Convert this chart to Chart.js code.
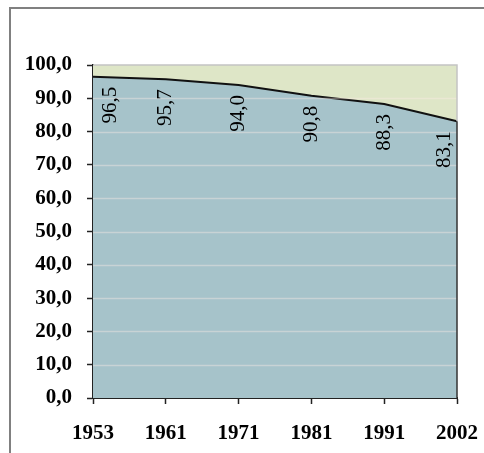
<!DOCTYPE html>
<html>
<head>
<meta charset="utf-8">
<script src="https://cdn.jsdelivr.net/npm/chart.js@4/dist/chart.umd.min.js"></script>
<style>
  html, body { margin: 0; padding: 0; background: #ffffff; overflow: hidden; }
  canvas { display: block; }
</style>
</head>
<body>
<canvas id="chart" width="484" height="453"></canvas>
<script>
// Census years and the share (%) held by the main group, plus the remainder up to 100
const years = ['1953', '1961', '1971', '1981', '1991', '2002'];
const mainShare = [96.5, 95.7, 94.0, 90.8, 88.3, 83.1];
const restShare = [3.5, 4.3, 6.0, 9.2, 11.7, 16.9];
const yTicks = [0, 10, 20, 30, 40, 50, 60, 70, 80, 90, 100];

const SERIF = '"Liberation Serif", "Times New Roman", serif';
const fmt = v => Number(v).toFixed(1).replace('.', ',');

// Grey outer frame (top and left edges)
const framePlugin = {
  id: 'frame',
  beforeDraw(chart) {
    const ctx = chart.ctx;
    ctx.save();
    ctx.fillStyle = '#ffffff';
    ctx.fillRect(0, 0, chart.width, chart.height);
    ctx.fillStyle = '#808080';
    ctx.fillRect(9, 7, chart.width - 9, 2);
    ctx.fillRect(9, 7, 2, chart.height - 7);
    ctx.restore();
  }
};

// Light horizontal gridlines over the areas, then the plot-area outline
const outlinePlugin = {
  id: 'outline',
  afterDatasetsDraw(chart) {
    const { ctx, chartArea: a } = chart;
    const yScale = chart.scales.y;
    ctx.save();
    ctx.strokeStyle = 'rgba(255,236,232,0.38)';
    ctx.lineWidth = 1.5;
    yTicks.forEach(v => {
      if (v === 0 || v === 100) return;
      const y = Math.round(yScale.getPixelForValue(v)) + 0.5;
      ctx.beginPath();
      ctx.moveTo(a.left, y);
      ctx.lineTo(a.right, y);
      ctx.stroke();
    });
    const meta = chart.getDatasetMeta(0);
    const last = meta.data[meta.data.length - 1];
    ctx.strokeStyle = '#c4c4c4';
    ctx.beginPath();
    ctx.moveTo(a.left, a.top);
    ctx.lineTo(a.right, a.top);
    ctx.lineTo(a.right, last.y);
    ctx.stroke();
    ctx.strokeStyle = '#333333';
    ctx.beginPath();
    ctx.moveTo(a.right, last.y);
    ctx.lineTo(a.right, a.bottom);
    ctx.stroke();
    ctx.restore();
  }
};

// Vertical value labels under each point of the main series
const valueLabelPlugin = {
  id: 'valueLabels',
  afterDatasetsDraw(chart) {
    const { ctx, chartArea: a } = chart;
    const meta = chart.getDatasetMeta(0);
    ctx.save();
    ctx.fillStyle = '#000000';
    ctx.font = '21px ' + SERIF;
    ctx.textAlign = 'right';
    ctx.textBaseline = 'middle';
    meta.data.forEach((pt, i) => {
      const x = Math.min(Math.max(pt.x, a.left + 17), a.right - 13);
      const y = pt.y + 10;
      ctx.save();
      ctx.translate(x, y);
      ctx.rotate(-Math.PI / 2);
      ctx.fillText(fmt(mainShare[i]), 0, 0);
      ctx.restore();
    });
    ctx.restore();
  }
};

new Chart(document.getElementById('chart'), {
  type: 'line',
  data: {
    labels: years,
    datasets: [
      {
        data: mainShare,
        fill: 'origin',
        backgroundColor: '#a6c3ca',
        borderColor: '#111111',
        borderWidth: 2,
        pointRadius: 0,
        tension: 0
      },
      {
        data: restShare,
        fill: '-1',
        backgroundColor: '#dee6c7',
        borderWidth: 0,
        borderColor: 'rgba(0,0,0,0)',
        pointRadius: 0,
        tension: 0
      }
    ]
  },
  options: {
    responsive: false,
    animation: false,
    devicePixelRatio: 1,
    layout: { padding: { top: 65, right: 27, left: 0, bottom: 0 } },
    plugins: {
      legend: { display: false },
      tooltip: { enabled: false },
      title: { display: false }
    },
    scales: {
      x: {
        type: 'category',
        offset: false,
        grid: {
          drawOnChartArea: false,
          drawTicks: true,
          tickLength: 6,
          tickColor: '#222222',
          tickWidth: 1.5
        },
        border: { display: true, color: '#222222', width: 2 },
        ticks: {
          color: '#000000',
          font: { family: SERIF, size: 21, weight: 'bold' },
          padding: 17,
          maxRotation: 0,
          autoSkip: false
        },
        afterFit(scale) {
          scale.height = 55;
          scale.paddingLeft = 0;
          scale.paddingRight = 0;
        }
      },
      y: {
        stacked: true,
        min: 0,
        max: 100,
        afterBuildTicks(scale) { scale.ticks = yTicks.map(v => ({ value: v })); },
        grid: {
          drawOnChartArea: false,
          drawTicks: true,
          tickLength: 6,
          tickColor: '#222222',
          tickWidth: 1.5
        },
        border: { display: true, color: '#222222', width: 2 },
        ticks: {
          color: '#000000',
          font: { family: SERIF, size: 21, weight: 'bold' },
          padding: 15,
          callback: v => fmt(v)
        },
        afterFit(scale) {
          scale.width = 93;
          scale.paddingTop = 0;
          scale.paddingBottom = 0;
        }
      }
    }
  },
  plugins: [framePlugin, outlinePlugin, valueLabelPlugin]
});
</script>
</body>
</html>
